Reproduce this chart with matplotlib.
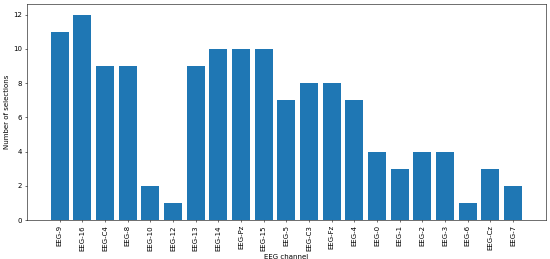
import matplotlib
matplotlib.use("Agg")
import matplotlib.pyplot as plt

channels = ["EEG-9", "EEG-16", "EEG-C4", "EEG-8", "EEG-10", "EEG-12", "EEG-13",
            "EEG-14", "EEG-Pz", "EEG-15", "EEG-5", "EEG-C3", "EEG-Fz", "EEG-4",
            "EEG-0", "EEG-1", "EEG-2", "EEG-3", "EEG-6", "EEG-Cz", "EEG-7"]
counts = [11, 12, 9, 9, 2, 1, 9, 10, 10, 10, 7, 8, 8, 7, 4, 3, 4, 4, 1, 3, 2]

fig, ax = plt.subplots(figsize=(11, 5.18), dpi=50)
ax.bar(channels, counts)
ax.set_xlabel("EEG channel")
ax.set_ylabel("Number of selections")
plt.xticks(rotation=90)
plt.subplots_adjust(left=0.049, right=0.992, top=0.983, bottom=0.15)
plt.savefig("out.png")
